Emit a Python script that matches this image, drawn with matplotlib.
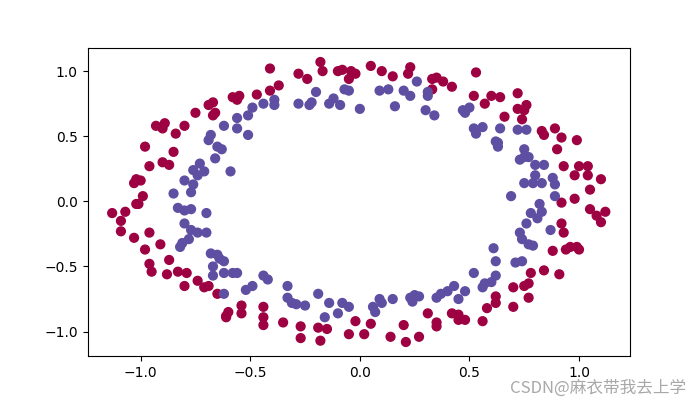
import matplotlib
matplotlib.use("Agg")
from matplotlib import pyplot as plt
import numpy as np

# outer ring (label 0, red)
red_x = [-0.67, -0.69, -0.66, -0.67, -0.75, -0.89, -0.93, -0.90, -0.80, -0.84, -0.98, -0.85,
         -0.41, -0.28, -0.24, -0.18, -0.17, -0.10, -0.08, -0.04, -0.05, -0.02, -0.37, -0.41, -0.47, -0.58, -0.55, -0.56,
         0.05, 0.10, 0.15, 0.22, 0.23, 0.33, 0.35, 0.38, 0.33, 0.42, 0.53, 0.52, 0.57, 0.60, 0.64,
         0.72, 0.76, 0.72, 0.75, 0.66, 0.74, 0.83, 0.84, 0.89, 0.92, 0.99, 0.90,
         -0.96, -0.90, -0.87, -1.02, -1.03, -1.00, -0.99, -1.02, -1.01, -1.07, -1.13, -1.09, -1.09, -1.03, -0.96, -0.91, -0.98,
         0.93, 1.00, 1.04, 0.98, 1.04, 1.10, 1.05, 0.98, 0.92, 1.05, 1.12, 1.08, 1.10, 0.92, 0.93, 0.88, 0.94, 0.96, 0.99, 1.00,
         -0.87, -0.96, -0.95, -0.88, -0.83, -0.79, -0.80, -0.74, -0.71, -0.69, -0.65, -0.61,
         -0.60, -0.61, -0.54, -0.54, -0.44, -0.44, -0.44, -0.35, -0.27, -0.27, -0.19, -0.15, -0.18, -0.05, -0.02, 0.02,
         0.05, 0.14, 0.20, 0.21, 0.27, 0.31, 0.35, 0.35, 0.42, 0.45, 0.45, 0.48, 0.56, 0.58, 0.62, 0.62,
         0.78, 0.84, 0.91, 0.70, 0.75, 0.77, 0.77, 0.70]
red_y = [0.76, 0.74, 0.68, 0.66, 0.68, 0.60, 0.58, 0.56, 0.58, 0.52, 0.42, 0.38,
         1.02, 0.98, 0.94, 1.07, 1.00, 1.00, 1.01, 1.00, 0.94, 0.98, 0.89, 0.85, 0.82, 0.80, 0.81, 0.78,
         1.04, 1.00, 0.96, 0.98, 1.03, 0.94, 0.95, 0.92, 0.86, 0.88, 0.99, 0.81, 0.75, 0.81, 0.80,
         0.83, 0.74, 0.71, 0.70, 0.65, 0.63, 0.54, 0.51, 0.56, 0.49, 0.47, 0.40,
         0.27, 0.30, 0.28, 0.17, 0.14, 0.16, 0.04, -0.02, -0.02, -0.08, -0.09, -0.15, -0.23, -0.28, -0.24, -0.33, -0.37,
         0.27, 0.27, 0.27, 0.20, 0.20, 0.17, 0.09, 0.02, -0.01, -0.06, -0.08, -0.11, -0.16, -0.17, -0.24, -0.38, -0.37, -0.35, -0.35, -0.37,
         -0.45, -0.48, -0.54, -0.56, -0.54, -0.55, -0.65, -0.61, -0.66, -0.65, -0.71, -0.89,
         -0.85, -0.88, -0.80, -0.86, -0.81, -0.89, -0.95, -0.93, -0.96, -1.05, -0.97, -0.98, -1.07, -1.02, -0.92, -1.02,
         -0.94, -1.04, -0.95, -1.08, -1.04, -0.86, -0.93, -0.96, -0.86, -0.87, -0.91, -0.91, -0.92, -0.82, -0.73, -0.78,
         -0.55, -0.53, -0.56, -0.66, -0.65, -0.63, -0.74, -0.81]

# inner ring (label 1, purple)
blue_x = [-0.62, -0.68, -0.69, -0.65, -0.63,
          -0.20, -0.07, -0.05, -0.39, -0.39, -0.44, -0.49, -0.51, -0.56, -0.56, -0.51, -0.28, -0.23, -0.22, -0.14, -0.12, -0.09,
          0.00, 0.09, 0.13, 0.20, 0.23, 0.26, 0.31, 0.31, 0.16, 0.30, 0.34, 0.47, 0.50, 0.48, 0.52, 0.56, 0.53, 0.64, 0.62, 0.63,
          0.72, 0.76, 0.63, 0.75,
          -0.66, -0.73, -0.76, -0.71, -0.74, -0.59, -0.80, -0.76, -0.77, -0.85, -0.83, -0.80, -0.77, -0.70, -0.80, -0.77, -0.74,
          -0.70, -0.78, -0.81, -0.82, -0.68, -0.65,
          0.61,
          0.75, 0.77, 0.73, 0.80, 0.84, 0.80, 0.88, 0.75, 0.79, 0.83, 0.89, 0.69, 0.89, 0.82, 0.83, 0.78, 0.81, 0.76, 0.87, 0.73,
          0.74, 0.77, 0.79,
          -0.64, -0.67, -0.62, -0.67, -0.62, -0.62,
          -0.58, -0.56, -0.52, -0.49, -0.44, -0.42, -0.33, -0.33, -0.31, -0.29, -0.25, -0.19, -0.14, -0.16, -0.10, -0.08, -0.05,
          0.06, 0.07, 0.09, 0.10, 0.15, 0.23, 0.25, 0.27, 0.24, 0.35, 0.37, 0.40, 0.43, 0.45, 0.48, 0.52, 0.56, 0.57, 0.60,
          0.62, 0.62, 0.71, 0.74]
blue_y = [0.58, 0.51, 0.47, 0.42, 0.40,
          0.84, 0.86, 0.85, 0.78, 0.74, 0.75, 0.72, 0.66, 0.64, 0.56, 0.51, 0.75, 0.74, 0.76, 0.75, 0.79, 0.74,
          0.71, 0.85, 0.86, 0.85, 0.81, 0.92, 0.84, 0.81, 0.73, 0.70, 0.66, 0.70, 0.72, 0.68, 0.56, 0.57, 0.52, 0.56, 0.46, 0.42,
          0.55, 0.55, 0.45, 0.40,
          0.33, 0.29, 0.24, 0.23, 0.20, 0.23, 0.16, 0.13, 0.07, 0.06, -0.05, -0.07, -0.06, -0.09, -0.17, -0.22, -0.24,
          -0.24, -0.29, -0.32, -0.35, -0.40, -0.41,
          -0.36,
          0.34, 0.34, 0.32, 0.28, 0.28, 0.20, 0.18, 0.14, 0.14, 0.14, 0.13, 0.04, 0.04, -0.02, -0.08, -0.09, -0.13, -0.17, -0.22, -0.24,
          -0.29, -0.33, -0.34,
          -0.44, -0.50, -0.46, -0.57, -0.55, -0.71,
          -0.55, -0.55, -0.68, -0.65, -0.57, -0.60, -0.65, -0.74, -0.78, -0.79, -0.80, -0.71, -0.78, -0.89, -0.86, -0.78, -0.81,
          -0.81, -0.85, -0.75, -0.78, -0.75, -0.74, -0.72, -0.73, -0.77, -0.74, -0.71, -0.69, -0.65, -0.75, -0.69, -0.55, -0.66, -0.63, -0.62,
          -0.46, -0.57, -0.47, -0.46]

X = np.array(red_x + blue_x)
Y = np.array(red_y + blue_y)
labels = np.array([0] * len(red_x) + [1] * len(blue_x))

plt.figure(figsize=(7, 4), dpi=100)
plt.scatter(X, Y, c=labels, s=40, cmap=plt.cm.Spectral)
# watermark
plt.gcf().text(0.98, 0.008, "CSDN@麻衣带我去上学", ha="right", va="bottom",
               fontsize=12, color="#a8a8a8",
               family=["Noto Sans CJK SC", "DejaVu Sans"])
plt.savefig("out.png")
